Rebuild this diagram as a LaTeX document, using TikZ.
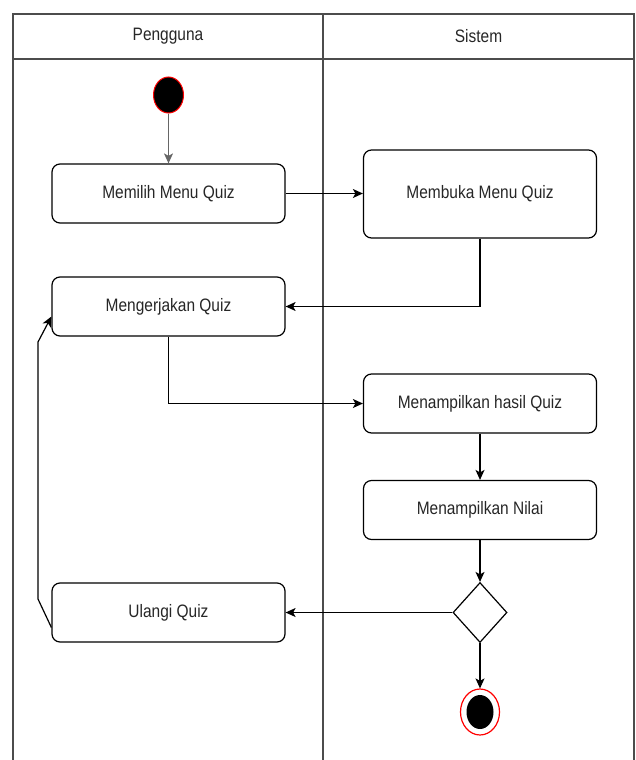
\documentclass[tikz,border=0pt]{standalone}
\usepackage{fontspec}
\setmainfont{Liberation Sans}[FakeStretch=0.86]
\usetikzlibrary{arrows.meta,shapes.geometric}
\tikzset{>={Stealth[length=10pt,width=9pt,inset=2.5pt]}}
\colorlet{lanecol}{black!70}
\colorlet{txtcol}{black!85}
\tikzset{
    lane/.style={draw=lanecol, line width=1.3pt},
    act/.style={draw, rounded corners=8pt, line width=1.2pt, text=txtcol,
        minimum width=233pt, minimum height=59pt,
        font=\fontsize{18}{21}\selectfont},
    flow/.style={->, line width=1.2pt},
}

\begin{document}
\begin{tikzpicture}[x=1pt, y=-1pt]
    \useasboundingbox (0, 0) rectangle (636, 760);

    % lanes
    \draw[lane] (13, 760) -- (13, 14) -- (634, 14) -- (634, 760);
    \draw[lane] (13, 59) -- (634, 59);
    \draw[lane] (323, 14) -- (323, 760);
    \node[text=txtcol, font=\fontsize{18}{21}\selectfont] (pengguna) at (168, 36.5) {Pengguna};
    \node[text=txtcol, font=\fontsize{18}{21}\selectfont] (sistem) at (478.5, 36.5) {Sistem};

    % start and end
    \node[draw=red, fill=black, ellipse, line width=1pt, minimum width=30pt, minimum height=36pt, inner sep=0] (mulai) at (168.5, 95) {};
    \node[draw=red, ellipse, line width=1.2pt, minimum width=39pt, minimum height=46pt, inner sep=0] (selesai) at (480, 712) {};
    \node[fill=black, ellipse, minimum width=27pt, minimum height=34pt, inner sep=0] (selesaiinti) at (selesai) {};

    % activities
    \node[act] (memilih) at (168.5, 193.5) {Memilih Menu Quiz};
    \node[act, minimum height=88pt] (membuka) at (480, 194) {Membuka Menu Quiz};
    \node[act] (mengerjakan) at (168.5, 306.5) {Mengerjakan Quiz};
    \node[act] (hasil) at (480, 403.5) {Menampilkan hasil Quiz};
    \node[act] (nilai) at (480, 510) {Menampilkan Nilai};
    \node[act] (ulangi) at (168.5, 612.5) {Ulangi Quiz};
    \node[draw, diamond, line width=1.2pt, minimum width=54pt, minimum height=60pt, inner sep=0] (keputusan) at (480, 612.5) {};

    % flows
    \draw[flow, draw=black!60] (mulai) -- (memilih);
    \draw[flow] (memilih.east) -- (memilih.east -| membuka.west);
    \draw[flow] (membuka.south) |- (mengerjakan.east);
    \draw[flow] (mengerjakan.south) |- (hasil.west);
    \draw[flow] (hasil) -- (nilai);
    \draw[flow] (nilai) -- (keputusan);
    \draw[flow] (keputusan) -- (ulangi);
    \draw[flow] (keputusan) -- (selesai);
    \coordinate (balik1) at (38, 599);
    \coordinate (balik2) at (38, 342);
    \draw[flow] ([yshift=-15pt]ulangi.west) -- (balik1) -- (balik2) -- ([yshift=-10pt]mengerjakan.west);
\end{tikzpicture}
\end{document}
